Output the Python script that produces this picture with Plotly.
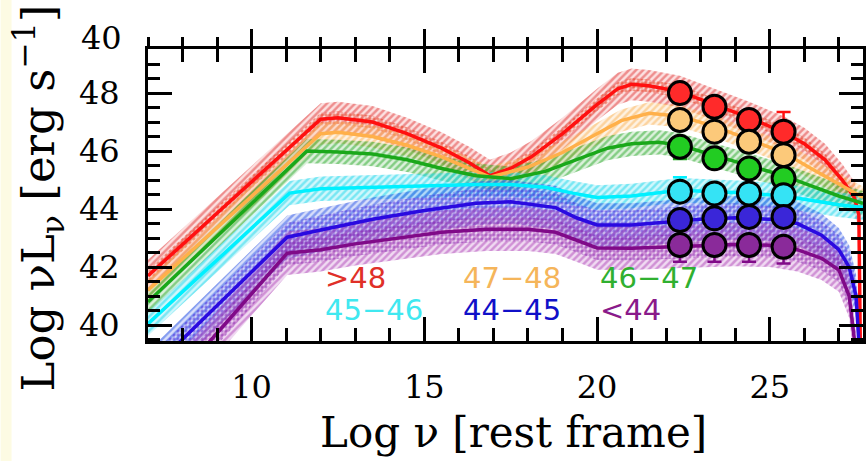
import plotly.graph_objects as go

# ---------------- data ----------------
SERIES_LABELS = ["&gt;48", "47−48", "46−47", "45−46", "44−45", "&lt;44"]

RED_X = [7.0, 12.0, 12.5, 13.5, 14.5, 15.5, 16.3, 16.9, 17.5, 18.1, 19.0, 20.0, 20.6, 21.0, 21.5,
         22.4, 23.4, 24.4, 25.4, 26.0, 26.6, 27.1, 27.45, 27.58, 27.63]
RED_Y = [41.7, 47.1, 47.15, 47.0, 46.6, 46.1, 45.6, 45.15, 45.4, 45.8, 46.6, 47.6, 48.15, 48.3, 48.25,
         48.05, 47.6, 47.15, 46.65, 46.25, 45.7, 45.0, 44.4, 43.8, 38.5]

ORANGE_X = [7.0, 12.0, 12.5, 13.5, 14.5, 15.5, 16.3, 16.9, 18.0, 19.0, 20.0, 20.7, 21.5,
            22.4, 23.4, 24.4, 25.4, 26.2, 27.0, 27.7]
ORANGE_Y = [41.2, 46.6, 46.65, 46.5, 46.2, 45.8, 45.4, 45.1, 45.45, 45.95, 46.6, 47.05, 47.3,
            47.2, 46.85, 46.4, 45.95, 45.4, 44.85, 44.4]

GREEN_X = [7.0, 11.6, 12.5, 13.5, 14.5, 15.5, 16.5, 17.5, 18.5, 19.5, 20.3, 21.0, 21.8,
           22.4, 23.4, 24.4, 25.4, 26.2, 27.0, 27.7]
GREEN_Y = [40.8, 46.0, 45.97, 45.9, 45.7, 45.4, 45.15, 45.05, 45.3, 45.75, 46.1, 46.25, 46.3,
           46.2, 45.85, 45.5, 45.15, 44.8, 44.45, 44.2]

CYAN_X = [7.0, 11.1, 12.0, 13.5, 15.0, 16.5, 17.5, 18.5, 19.3, 20.0, 21.0, 22.0,
          22.4, 23.4, 24.4, 25.4, 26.2, 27.0, 27.7]
CYAN_Y = [40.05, 44.55, 44.7, 44.75, 44.8, 44.85, 44.85, 44.75, 44.55, 44.4, 44.45, 44.6,
          44.65, 44.6, 44.55, 44.45, 44.3, 44.15, 44.05]

BLUE_X = [7.0, 7.95, 11.03, 12.0, 13.5, 15.0, 16.5, 17.5, 18.8, 19.4, 20.0, 21.0, 22.0,
          23.0, 24.0, 25.0, 25.8, 26.5, 27.0, 27.3, 27.5, 27.6]
BLUE_Y = [38.35, 39.45, 43.03, 43.28, 43.65, 43.95, 44.2, 44.25, 44.05, 43.7, 43.45, 43.45, 43.55,
          43.65, 43.7, 43.65, 43.5, 43.1, 42.6, 42.0, 41.0, 39.0]

PURPLE_X = [7.0, 8.8, 11.03, 12.0, 13.0, 14.3, 15.5, 16.8, 18.0, 18.8, 19.4, 20.0, 21.0, 22.0,
            23.0, 24.0, 25.0, 25.8, 26.5, 27.0, 27.3, 27.5]
PURPLE_Y = [37.2, 39.45, 42.48, 42.6, 42.8, 43.0, 43.2, 43.3, 43.3, 43.2, 42.93, 42.66, 42.65, 42.7,
            42.75, 42.78, 42.75, 42.6, 42.3, 41.9, 41.0, 39.0]

HALF_WIDTH = [0.55, 0.38, 0.42, 0.42, 0.75, 0.75]
INNER_HALF_WIDTH = [0.22, 0.0, 0.0, 0.0, 0.5, 0.42]

GAMMA_X = [22.4, 23.4, 24.4, 25.4]
GAMMA_RED = [48.0, 47.53, 47.07, 46.67]
GAMMA_ORANGE = [47.07, 46.67, 46.32, 45.86]
GAMMA_GREEN = [46.15, 45.75, 45.4, 45.06]
GAMMA_CYAN = [44.6, 44.54, 44.54, 44.48]
GAMMA_BLUE = [43.62, 43.68, 43.73, 43.73]
GAMMA_PURPLE = [42.76, 42.76, 42.76, 42.7]
ERR_PLUS = [[0.3, 0.3, 0.3, 0.68], [0.3, 0.3, 0.3, 0.3], [0.3, 0.3, 0.3, 0.3],
            [0.5, 0.3, 0.3, 0.3], [0.3, 0.3, 0.3, 0.3], [0.3, 0.3, 0.3, 0.3]]
ERR_MINUS = [[0.3, 0.3, 0.3, 0.3], [0.3, 0.3, 0.3, 0.3], [0.42, 0.3, 0.3, 0.3],
             [0.3, 0.3, 0.3, 0.3], [0.3, 0.3, 0.3, 0.3], [0.58, 0.58, 0.58, 0.58]]

X_TICK_MAJOR = 5
Y_TICK_MAJOR = 2

# ---------------- styles ----------------
LINE_COLORS = ["#ff1010", "#ffb04a", "#1aa81a", "#00f0ff", "#2a0ae0", "#800a88"]
HATCH_COLORS = ["#e23a3a", "#f9b45a", "#2eaa2e", "#22d8ec", "#2f5ae6", "#b048b8"]
HATCH_BG = ["rgba(240,90,90,0.18)", "rgba(250,190,110,0.2)", "rgba(60,180,60,0.18)",
            "rgba(40,220,240,0.22)", "rgba(60,90,230,0.2)", "rgba(180,70,190,0.2)"]
DOT_COLORS = ["#e8401e", None, None, None, "#4a26dc", "#8a28b0"]
TEXT_COLORS = ["#e03028", "#f5b55a", "#30b030", "#40e8f0", "#1010c8", "#8a1a8a"]
MARKER_COLORS = ["#ff2a2a", "#fcc97a", "#22cc22", "#35e3f5", "#3a26d8", "#8a2a9a"]

series_x = [RED_X, ORANGE_X, GREEN_X, CYAN_X, BLUE_X, PURPLE_X]
series_y = [RED_Y, ORANGE_Y, GREEN_Y, CYAN_Y, BLUE_Y, PURPLE_Y]
gamma_y = [GAMMA_RED, GAMMA_ORANGE, GAMMA_GREEN, GAMMA_CYAN, GAMMA_BLUE, GAMMA_PURPLE]

W, H = 866, 461
ML, MR, MT, MB = 148, 0, 49, 120
PW, PH = W - ML - MR, H - MT - MB


def px_x(px):
    return (px - ML) / PW


def px_y(py):
    return (H - MB - py) / PH


fig = go.Figure()


def band(xs, ys, hw, shape, color, bg, size, solidity):
    up = [y + hw for y in ys]
    lo = [y - hw for y in ys]
    fig.add_trace(go.Scatter(
        x=list(xs) + list(xs[::-1]), y=up + lo[::-1], mode="lines",
        line=dict(width=0), fill="toself", fillcolor=bg,
        fillpattern=dict(shape=shape, fgcolor=color, bgcolor=bg,
                         size=size, solidity=solidity, fillmode="overlay"),
        hoverinfo="skip", showlegend=False))


for i in range(6):
    band(series_x[i], series_y[i], HALF_WIDTH[i], "/", HATCH_COLORS[i], HATCH_BG[i], 5, 0.5)
    if INNER_HALF_WIDTH[i] > 0:
        band(series_x[i], series_y[i], INNER_HALF_WIDTH[i], ".", DOT_COLORS[i],
             "rgba(255,255,255,0)", 4, 0.55)

for i in range(6):
    fig.add_trace(go.Scatter(x=series_x[i], y=series_y[i], mode="lines",
                             line=dict(color=LINE_COLORS[i], width=3.5),
                             hoverinfo="skip", showlegend=False))

for i in range(6):
    fig.add_trace(go.Scatter(
        x=GAMMA_X, y=gamma_y[i], mode="markers",
        marker=dict(size=23, color=MARKER_COLORS[i], line=dict(color="black", width=3)),
        error_y=dict(type="data", symmetric=False, array=ERR_PLUS[i], arrayminus=ERR_MINUS[i],
                     color=LINE_COLORS[i], thickness=2.5, width=7),
        hoverinfo="skip", showlegend=False))

# dummy trace for top outward ticks axis
fig.add_trace(go.Scatter(x=[10], y=[30], xaxis="x2", yaxis="y", mode="markers",
                         marker=dict(opacity=0), hoverinfo="skip", showlegend=False))

X_RANGE = [7.0, 27.7]
Y_RANGE = [39.45, 49.52]
tickfont = dict(family="DejaVu Serif", size=32, color="black")

fig.update_layout(
    width=W, height=H, margin=dict(l=ML, r=MR, t=MT, b=MB, pad=0),
    paper_bgcolor="white", plot_bgcolor="white", showlegend=False,
    xaxis=dict(range=X_RANGE, showline=True, linecolor="black", linewidth=3, mirror="ticks",
               ticks="inside", ticklen=24, tickwidth=2.5, tickcolor="black",
               tickmode="linear", tick0=0, dtick=X_TICK_MAJOR,
               minor=dict(ticks="inside", ticklen=13, tickwidth=2.5, tickcolor="black", tick0=0, dtick=1),
               showgrid=False, zeroline=False, tickfont=tickfont, ticklabelstandoff=16),
    xaxis2=dict(range=X_RANGE, overlaying="x", side="top", showline=False,
                ticks="outside", ticklen=19, tickwidth=2.5, tickcolor="black",
                tickmode="linear", tick0=0, dtick=X_TICK_MAJOR,
                minor=dict(ticks="outside", ticklen=11, tickwidth=2.5, tickcolor="black", tick0=0, dtick=1),
                showticklabels=False, showgrid=False, zeroline=False),
    yaxis=dict(range=Y_RANGE, showline=True, linecolor="black", linewidth=3, mirror="ticks",
               ticks="inside", ticklen=24, tickwidth=2.5, tickcolor="black",
               tickmode="linear", tick0=0, dtick=Y_TICK_MAJOR,
               minor=dict(ticks="inside", ticklen=12, tickwidth=2.5, tickcolor="black", tick0=0, dtick=0.5),
               showgrid=False, zeroline=False, tickfont=tickfont, ticklabelstandoff=19),
)

# legend-like coloured labels
LABEL_X = [12.06, 16.07, 20.04, 12.06, 16.07, 20.04]
LABEL_Y = [41.63, 41.63, 41.63, 40.53, 40.53, 40.53]
for i in range(6):
    fig.add_annotation(x=LABEL_X[i], y=LABEL_Y[i], xref="x", yref="y", text=SERIES_LABELS[i],
                       showarrow=False, xanchor="left", yanchor="middle",
                       font=dict(family="DejaVu Sans", size=29, color=TEXT_COLORS[i]))

# axis titles
fig.add_annotation(x=px_x(515), y=px_y(432), xref="paper", yref="paper",
                   text="Log ν [rest frame]", showarrow=False, xanchor="center", yanchor="middle",
                   font=dict(family="DejaVu Serif", size=42, color="black"))
fig.add_annotation(x=px_x(38), y=px_y(198), xref="paper", yref="paper",
                   text="Log νL<sub>ν</sub> [erg s<sup>−1</sup>]", showarrow=False, textangle=-90,
                   xanchor="center", yanchor="middle",
                   font=dict(family="DejaVu Serif", size=45, color="black"))
# partially visible label at the top of the y axis
fig.add_annotation(x=px_x(124), y=px_y(38), xref="paper", yref="paper", text="40",
                   showarrow=False, xanchor="right", yanchor="middle", font=tickfont)

# pale yellow strip on the left edge
fig.add_shape(type="rect", xref="paper", yref="paper", x0=px_x(0), x1=px_x(11),
              y0=px_y(H), y1=px_y(0), fillcolor="#fdfbe3", line=dict(width=0), layer="below")

fig.write_html("out.html")
